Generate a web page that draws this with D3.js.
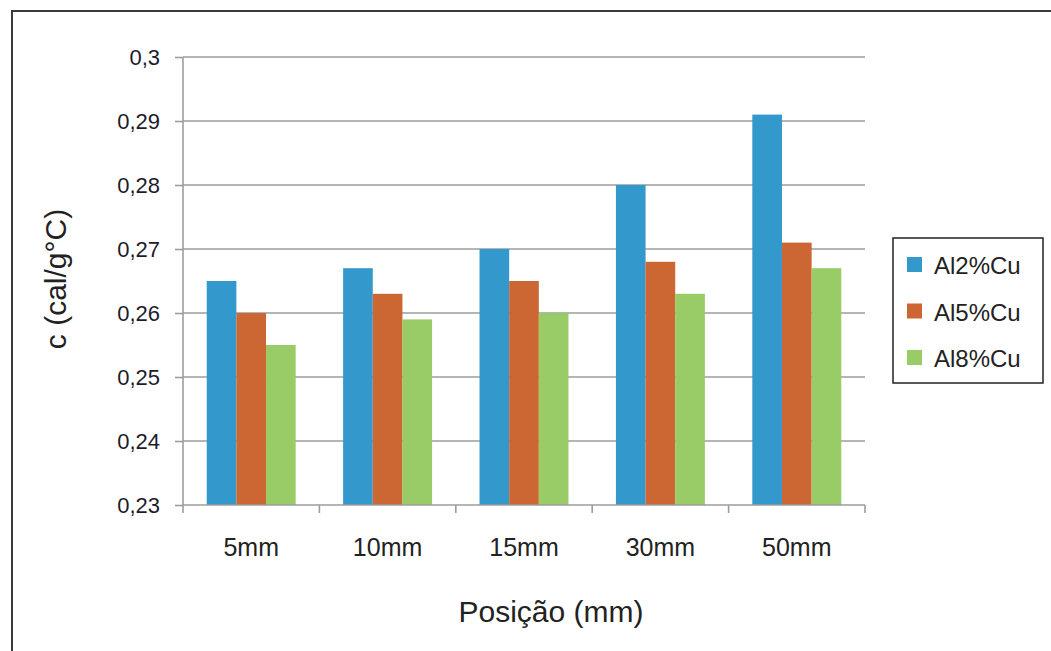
<!DOCTYPE html>
<html>
<head>
<meta charset="utf-8">
<script src="https://cdn.jsdelivr.net/npm/d3@7"></script>
<style>
  html, body { margin: 0; padding: 0; background: #fff; }
  svg { display: block; }
  text { font-family: "Liberation Sans", Arial, sans-serif; }
</style>
</head>
<body>
<svg id="chart" width="1051" height="651"></svg>
<script>
const categories = ["5mm", "10mm", "15mm", "30mm", "50mm"];
const seriesNames = ["Al2%Cu", "Al5%Cu", "Al8%Cu"];
const al2 = [0.265, 0.267, 0.270, 0.280, 0.291];
const al5 = [0.260, 0.263, 0.265, 0.268, 0.271];
const al8 = [0.255, 0.259, 0.260, 0.263, 0.267];
const yTicks = [0.23, 0.24, 0.25, 0.26, 0.27, 0.28, 0.29, 0.30];
const yTickLabels = ["0,23", "0,24", "0,25", "0,26", "0,27", "0,28", "0,29", "0,3"];
const colors = ["#3399cc", "#cc6633", "#99cc66"];
const seriesValues = [al2, al5, al8];

const svg = d3.select("#chart");

// outer chart border
svg.append("rect")
  .attr("x", 12).attr("y", 11)
  .attr("width", 1060).attr("height", 660)
  .attr("fill", "none").attr("stroke", "#3a3a3a").attr("stroke-width", 2);

const pLeft = 183, pRight = 865, pTop = 57, pBottom = 505;

const x0 = d3.scaleBand().domain(categories).range([pLeft, pRight]).padding(0);
const x1 = d3.scaleBand().domain(seriesNames).range([0, x0.bandwidth()])
  .paddingInner(0).paddingOuter(0.8);
const y = d3.scaleLinear().domain([0.23, 0.30]).range([pBottom, pTop]);

// gridlines
svg.append("g").selectAll("line")
  .data(yTicks.slice(1))
  .join("line")
  .attr("x1", pLeft).attr("x2", pRight)
  .attr("y1", d => y(d)).attr("y2", d => y(d))
  .attr("stroke", "#9d9d9d").attr("stroke-width", 1.6);

// bars
const groups = svg.append("g").selectAll("g")
  .data(categories)
  .join("g")
  .attr("transform", d => `translate(${x0(d)},0)`);

groups.selectAll("rect")
  .data((c, i) => seriesNames.map((s, j) => ({ s, v: seriesValues[j][i], j })))
  .join("rect")
  .attr("x", d => x1(d.s))
  .attr("width", x1.bandwidth())
  .attr("y", d => y(d.v))
  .attr("height", d => y(0.23) - y(d.v))
  .attr("fill", d => colors[d.j]);

// y axis
const yAxis = d3.axisLeft(y)
  .tickValues(yTicks)
  .tickFormat((d, i) => yTickLabels[i])
  .tickSize(8)
  .tickPadding(15);
const gy = svg.append("g").attr("transform", `translate(${pLeft},0)`).call(yAxis);
gy.select(".domain").attr("stroke", "#9d9d9d").attr("stroke-width", 1.6).attr("d", `M0,${pTop}V${pBottom}`);
gy.selectAll(".tick line").attr("stroke", "#9d9d9d").attr("stroke-width", 1.6);
gy.selectAll(".tick text")
  .attr("font-size", 22).attr("fill", "#1c1c2c")
  .attr("font-family", "'Liberation Sans', Arial, sans-serif")
  .attr("dy", "0.36em");

// x axis
const xAxis = d3.axisBottom(x0).tickSize(0).tickPadding(0);
const gx = svg.append("g").attr("transform", `translate(0,${pBottom})`).call(xAxis);
gx.select(".domain").attr("stroke", "#9d9d9d").attr("stroke-width", 1.6).attr("d", `M${pLeft},0H${pRight}`);
gx.selectAll(".tick text")
  .attr("font-size", 25).attr("fill", "#222")
  .attr("font-family", "'Liberation Sans', Arial, sans-serif")
  .attr("y", 51).attr("dy", 0);
// category boundary ticks
const bounds = categories.map(c => x0(c)).concat([pRight]);
gx.append("g").selectAll("line")
  .data(bounds)
  .join("line")
  .attr("x1", d => d).attr("x2", d => d)
  .attr("y1", 0).attr("y2", 8)
  .attr("stroke", "#9d9d9d").attr("stroke-width", 1.6);

// axis titles
svg.append("text")
  .attr("x", 551).attr("y", 622)
  .attr("text-anchor", "middle")
  .attr("font-size", 30).attr("fill", "#222")
  .text("Posição (mm)");

svg.append("text")
  .attr("transform", "translate(66,279) rotate(-90)")
  .attr("text-anchor", "middle")
  .attr("font-size", 30).attr("fill", "#222")
  .text("c (cal/g°C)");

// legend
const lg = svg.append("g");
lg.append("rect")
  .attr("x", 893).attr("y", 238)
  .attr("width", 150).attr("height", 145)
  .attr("fill", "#fff").attr("stroke", "#222").attr("stroke-width", 1.5);
const items = lg.selectAll("g.item")
  .data(seriesNames)
  .join("g").attr("class", "item")
  .attr("transform", (d, i) => `translate(907,${257 + i * 46.5})`);
items.append("rect")
  .attr("width", 15).attr("height", 15)
  .attr("fill", (d, i) => colors[i]);
items.append("text")
  .attr("x", 27).attr("y", 17)
  .attr("font-size", 24).attr("fill", "#222")
  .text(d => d);
</script>
</body>
</html>
